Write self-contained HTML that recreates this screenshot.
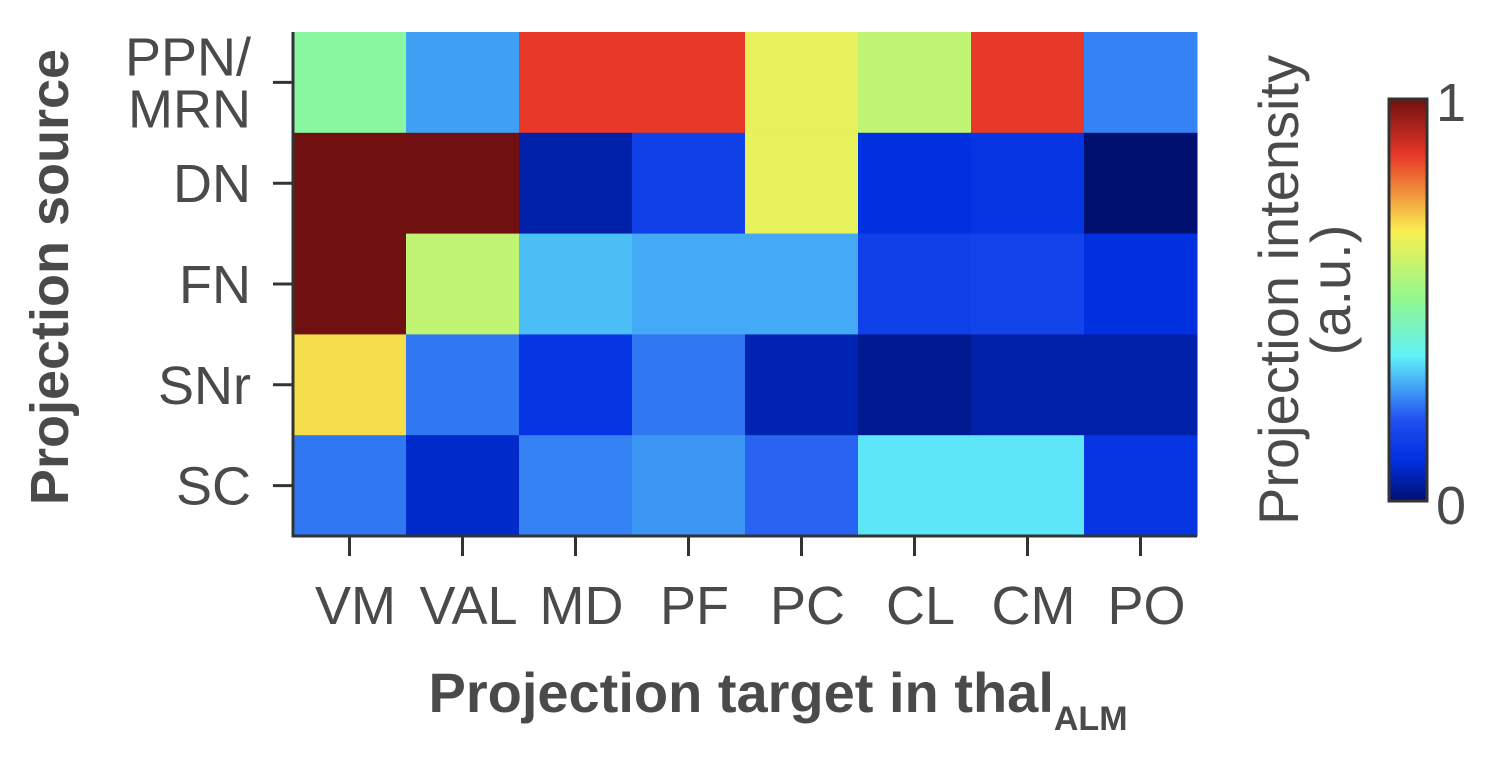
<!DOCTYPE html>
<html><head><meta charset="utf-8"><style>
body{margin:0;background:#fff;width:1502px;height:768px;overflow:hidden}
svg text{font-family:"Liberation Sans",Arial,sans-serif;fill:#4a4a4a}
</style></head><body>
<svg id="chart" width="1502" height="768">
<defs><linearGradient id="jetg" x1="0" y1="1" x2="0" y2="0"></linearGradient></defs>
<g id="cells"></g>
<g id="axes"></g>
</svg>
<script>
const cols=["VM","VAL","MD","PF","PC","CL","CM","PO"];
const rows=["PPN/\nMRN","DN","FN","SNr","SC"];
const row0=[0.48,0.28,0.86,0.86,0.64,0.58,0.86,0.25];
const row1=[1.0,1.0,0.05,0.15,0.64,0.10,0.12,0.0];
const row2=[1.0,0.58,0.31,0.29,0.29,0.15,0.16,0.10];
const row3=[0.69,0.24,0.12,0.24,0.06,0.03,0.05,0.05];
const row4=[0.24,0.08,0.25,0.27,0.22,0.35,0.35,0.12];
const values=[row0,row1,row2,row3,row4];
const cmapPos=[0,0.1,0.2,0.36,0.5,0.67,0.86,1];
const cmapCol=[[0,16,112],[0,48,224],[32,80,240],[96,240,248],[144,248,144],[248,240,80],[232,56,40],[112,16,16]];
const ns="http://www.w3.org/2000/svg";
const X0=293,X1=1197,Y0=32,Y1=536;
const cw=(X1-X0)/cols.length, rh=(Y1-Y0)/rows.length;
const xs=i=>X0+i*cw, ys=j=>Y0+j*rh;
function cmap(v){v=Math.max(0,Math.min(1,v));
 let k=0;while(k<cmapPos.length-2&&v>cmapPos[k+1])k++;
 const t=(v-cmapPos[k])/(cmapPos[k+1]-cmapPos[k]);
 const c=cmapCol[k].map((a,i)=>Math.round(a+(cmapCol[k+1][i]-a)*t));
 return `rgb(${c[0]},${c[1]},${c[2]})`;}
function mk(tag,attrs,parent,name){const e=document.createElementNS(ns,tag);for(const k in attrs)e.setAttribute(k,attrs[k]);parent.appendChild(e);
 
 
 return e;}
const cg=document.getElementById('cells'),ag=document.getElementById('axes');
values.forEach((row,j)=>row.forEach((v,i)=>{
 mk('rect',{x:xs(i),y:ys(j),width:cw+0.5,height:rh+0.5,fill:cmap(v)},cg,'cell-'+cols[i].toLowerCase()+'-'+j);
}));
mk('path',{d:`M${X0},${Y0} V${Y1} H${X1}`,stroke:'#333',fill:'none','stroke-width':3},ag,'axis-lines');
cols.forEach((c,i)=>{const cx=xs(i)+cw/2;
 mk('line',{x1:cx,x2:cx,y1:Y1,y2:Y1+20,stroke:'#333','stroke-width':3},ag,'x-tick');
 const t=mk('text',{x:cx+6,y:624,'font-size':54,'text-anchor':'middle'},ag,'x-tick-label');t.textContent=c;});
rows.forEach((r,j)=>{const cy=ys(j)+rh/2;
 mk('line',{x1:X0-20,x2:X0,y1:cy,y2:cy,stroke:'#333','stroke-width':3},ag,'y-tick');
 const parts=r.split('\n');
 parts.forEach((p,k)=>{const t=mk('text',{x:251,y:cy+19+(k-(parts.length-1)/2)*52,'font-size':54,'text-anchor':'end'},ag,'y-tick-label');t.textContent=p;});});
let t=mk('text',{x:778,y:712,'font-size':56,'font-weight':'bold','text-anchor':'middle'},ag,'x-axis-title');
t.innerHTML='Projection target in thal<tspan font-size="34" dy="18">ALM</tspan>';
t=mk('text',{x:0,y:0,'font-size':54,'font-weight':'bold','text-anchor':'middle',transform:'translate(68,277) rotate(-90)'},ag,'y-axis-title');t.textContent='Projection source';
const grad=document.getElementById('jetg');
cmapPos.forEach((p,k)=>{mk('stop',{offset:p,'stop-color':cmap(p)},grad,'gradient-stop');});
mk('rect',{x:1389,y:99,width:38,height:402,fill:'url(#jetg)',stroke:'#333','stroke-width':3},ag,'colorbar');
t=mk('text',{x:1436,y:121,'font-size':54},ag,'colorbar-max-label');t.textContent='1';
t=mk('text',{x:1436,y:524,'font-size':54},ag,'colorbar-min-label');t.textContent='0';
t=mk('text',{x:0,y:0,'font-size':56,'text-anchor':'middle',transform:'translate(1298,290) rotate(-90)'},ag,'colorbar-title');t.textContent='Projection intensity';
t=mk('text',{x:0,y:0,'font-size':56,'text-anchor':'middle',transform:'translate(1350,290) rotate(-90)'},ag,'colorbar-units');t.textContent='(a.u.)';
</script>
</body></html>
